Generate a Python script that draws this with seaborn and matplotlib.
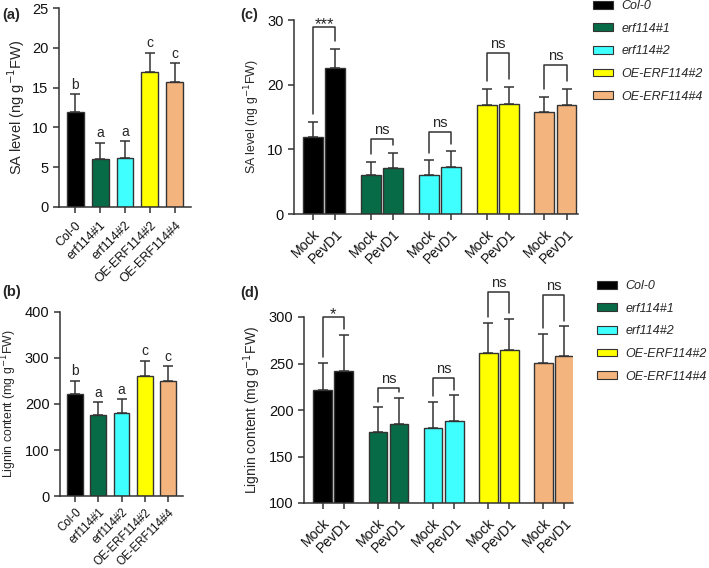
import numpy as np
import pandas as pd
import matplotlib
matplotlib.use("Agg")
import matplotlib.pyplot as plt
from matplotlib.patches import Patch
import seaborn as sns

# Data
genotypes = ["Col-0", "erf114#1", "erf114#2", "OE-ERF114#2", "OE-ERF114#4"]
colors = ["#000000", "#076b47", "#40ffff", "#ffff00", "#f4b47e"]
treatments = ["Mock", "PevD1"]

sa_mean = [11.9, 6.0, 6.1, 16.9, 15.7]
sa_sd = [2.3, 2.1, 2.2, 2.5, 2.4]
sa_letters = ["b", "a", "a", "c", "c"]

lignin_mean = [221, 176, 181, 261, 251]
lignin_sd = [30, 28, 29, 33, 31]
lignin_letters = ["b", "a", "a", "c", "c"]

sa_mock = [11.9, 6.0, 6.1, 16.9, 15.7]
sa_mock_sd = [2.3, 2.1, 2.2, 2.5, 2.4]
sa_pevd1 = [22.6, 7.1, 7.3, 17.0, 16.9]
sa_pevd1_sd = [2.9, 2.4, 2.4, 2.6, 2.5]
sa_sig = ["***", "ns", "ns", "ns", "ns"]
sa_bracket = [28.9, 11.6, 12.7, 24.9, 23.0]

lig_mock = [221, 176, 181, 261, 251]
lig_mock_sd = [30, 27, 28, 33, 31]
lig_pevd1 = [242, 185, 188, 265, 258]
lig_pevd1_sd = [39, 28, 28, 33, 32]
lig_sig = ["*", "ns", "ns", "ns", "ns"]
lig_bracket = [300, 224, 234, 327, 324]

W, H = 709, 568
sns.set_style("ticks")
plt.rcParams["font.family"] = ["Liberation Sans", "DejaVu Sans"]
plt.rcParams["axes.edgecolor"] = "#333333"

fig = plt.figure(figsize=(W / 100, H / 100), dpi=100)


def rect(l, t, r, b):
    return [l / W, 1 - b / H, (r - l) / W, (b - t) / H]


def style_axis(ax, xpad=5):
    sns.despine(ax=ax)
    for s in ["left", "bottom"]:
        ax.spines[s].set_linewidth(1.1)
    ax.tick_params(axis="both", length=4, width=1.1, labelsize=10.5, colors="#333333",
                   labelcolor="#111111")
    ax.tick_params(axis="x", pad=xpad)


def simple_panel(ax, means, sds, letters, ylim, yticks, ylabel, label_off, ylab_size,
                 xlab_size, xpad):
    df = pd.DataFrame({"g": genotypes, "v": means})
    sns.barplot(data=df, x="g", y="v", hue="g", palette=colors, legend=False, saturation=1,
                width=0.68, edgecolor="#333333", linewidth=1, errorbar=None, ax=ax)
    x = np.arange(len(means))
    ax.errorbar(x, means, yerr=[np.zeros(len(sds)), sds], fmt="none",
                ecolor="#333333", elinewidth=1.1, capsize=3.5, capthick=1.1)
    for xi, m, s, t in zip(x, means, sds, letters):
        ax.text(xi, m + s + label_off, t, ha="center", va="bottom", fontsize=10)
    ax.set_xlim(-0.65, 4.65)
    ax.set_ylim(*ylim)
    ax.set_yticks(yticks)
    ax.set_xlabel("")
    ax.set_ylabel(ylabel, fontsize=ylab_size)
    ax.set_xticks(x)
    style_axis(ax, xpad)
    ax.set_xticklabels(genotypes, rotation=45, ha="right", rotation_mode="anchor",
                       fontsize=xlab_size)


def pair_panel(ax, mock, mock_sd, pev, pev_sd, sig, bracket, ylim, yticks, ylabel, xlim, gap,
               ylab_size):
    pitch = 2.62
    rows = []
    for i, g in enumerate(genotypes):
        rows.append({"pos": pitch * i, "v": mock[i], "g": g})
        rows.append({"pos": pitch * i + 1, "v": pev[i], "g": g})
    df = pd.DataFrame(rows)
    sns.barplot(data=df, x="pos", y="v", hue="g", palette=colors, legend=False, saturation=1,
                native_scale=True, dodge=False, width=0.9, edgecolor="#333333",
                linewidth=1, errorbar=None, ax=ax)
    sd = []
    for i in range(len(genotypes)):
        sd += [mock_sd[i], pev_sd[i]]
    ax.errorbar(df["pos"], df["v"], yerr=[np.zeros(len(sd)), sd], fmt="none",
                ecolor="#333333", elinewidth=1.1, capsize=3.5, capthick=1.1, clip_on=False)
    for i in range(len(genotypes)):
        x0, x1 = pitch * i, pitch * i + 1
        y0 = mock[i] + mock_sd[i] + gap
        y1 = pev[i] + pev_sd[i] + gap
        top = bracket[i]
        ax.plot([x0, x0, x1, x1], [y0, top, top, y1], color="#333333", lw=1.1,
                clip_on=False)
        star = sig[i] != "ns"
        ax.annotate(sig[i], ((x0 + x1) / 2, top), xytext=(0, -1.5 if star else 3.6),
                    textcoords="offset points", ha="center", va="baseline",
                    fontsize=12 if star else 10.5, annotation_clip=False)
    ax.set_xlim(*xlim)
    ax.set_ylim(*ylim)
    ax.set_yticks(yticks)
    ax.set_xlabel("")
    ax.set_ylabel(ylabel, fontsize=ylab_size)
    ax.set_xticks(df["pos"])
    style_axis(ax)
    ax.set_xticklabels(treatments * len(genotypes), rotation=45, ha="right",
                       rotation_mode="anchor", fontsize=10)


ax_a = fig.add_axes(rect(59, 8, 191, 207))
simple_panel(ax_a, sa_mean, sa_sd, sa_letters, (0, 25), [0, 5, 10, 15, 20, 25],
             r"SA level (ng g$^{-1}$FW)", 0.3, 10.5, 9, 5)

ax_b = fig.add_axes(rect(60, 312, 183, 496))
simple_panel(ax_b, lignin_mean, lignin_sd, lignin_letters, (0, 400), [0, 100, 200, 300, 400],
             r"Lignin content (mg g$^{-1}$FW)", 5, 8.8, 8.3, 3.5)

ax_c = fig.add_axes(rect(294, 20, 578, 214))
pair_panel(ax_c, sa_mock, sa_mock_sd, sa_pevd1, sa_pevd1_sd, sa_sig, sa_bracket,
           (0, 30), [0, 10, 20, 30], r"SA level (ng g$^{-1}$FW)", (-0.86, 12.0), 1.2, 8.9)

ax_d = fig.add_axes(rect(304, 317, 573, 503))
pair_panel(ax_d, lig_mock, lig_mock_sd, lig_pevd1, lig_pevd1_sd, lig_sig, lig_bracket,
           (100, 300), [100, 150, 200, 250, 300], r"Lignin content (mg g$^{-1}$FW)",
           (-0.9, 11.9), 6, 10)

for txt, x, y in [("(a)", 2, 15), ("(b)", 2, 292), ("(c)", 240, 15), ("(d)", 240, 293)]:
    fig.text(x / W, 1 - y / H, txt, fontsize=10.5, fontweight="bold", va="center")

handles = [Patch(facecolor=c, edgecolor="#333333", linewidth=0.8) for c in colors]
for lx, ly in [(593, 0), (597, 280)]:
    fig.legend(handles, genotypes, loc="upper left",
               bbox_to_anchor=(lx / W, 1 - ly / H), frameon=False,
               borderaxespad=0, borderpad=0,
               handlelength=1.6, handleheight=0.6, handletextpad=0.7,
               labelspacing=0.85, prop={"style": "italic", "size": 9})

fig.savefig("out.png", dpi=100)
